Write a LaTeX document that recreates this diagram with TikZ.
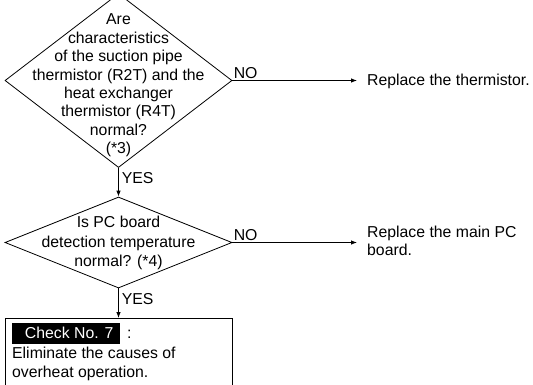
\documentclass[tikz,border=0pt]{standalone}
\usepackage{fontspec}
\setmainfont{Liberation Sans}
\usetikzlibrary{shapes.geometric,arrows.meta}
\begin{document}
\begin{tikzpicture}[x=1pt,y=-1pt,
  every node/.style={font=\fontsize{15.8}{18.6}\selectfont},
  dia/.style={draw,shape=diamond,line width=0.8pt,minimum width=227pt,minimum height=#1,inner sep=0pt},
  arr/.style={line width=0.8pt,-{Latex[length=6pt,width=4.5pt]}},
  lbl/.style={inner sep=0pt},
]
\clip (0,0) rectangle (533,384);
\node[dia=174pt] (d1) at (118.5,80.5) {};
\node[align=center,inner sep=0pt,font=\fontsize{15.8}{18.4}\selectfont] (t1) at (118.5,85.5) {Are\\characteristics\\of the suction pipe\\thermistor (R2T) and the\\heat exchanger\\thermistor (R4T)\\normal?\\(*3)};
\node[dia=91pt] (d2) at (118.5,242.5) {};
\node[align=center,inner sep=0pt,font=\fontsize{15.8}{19.2}\selectfont] (t2) at (118.5,243) {Is PC board\\detection temperature\\normal? (*4)};
\node[draw,line width=0.8pt,anchor=north,minimum width=227pt,minimum height=80pt,inner sep=0pt] (box) at (118.5,318) {};
\node[fill=black,text=white,anchor=north west,minimum width=108pt,minimum height=21pt,inner sep=0pt] (chk) at (12,322.5) {\hspace*{6pt}Check No. 7\hfill};
\node[lbl,anchor=west] (colon) at (127,334) {:};
\node[lbl,anchor=north west,align=left,font=\fontsize{15.8}{19}\selectfont] (elim) at (12,346.5) {Eliminate the causes of\\overheat operation.};
\node[lbl,anchor=west] (r1) at (367,81) {Replace the thermistor.};
\node[lbl,anchor=west,align=left] (r2) at (367,241) {Replace the main PC\\board.};
\draw[arr,shorten >=10pt] (d1.east) -- (d1.east -| r1.west) node[lbl,pos=0,anchor=south west,xshift=1pt,yshift=1pt] (no1) {NO};
\draw[arr,shorten >=10pt] (d2.east) -- (d2.east -| r2.west) node[lbl,pos=0,anchor=south west,xshift=1pt,yshift=1pt] (no2) {NO};
\draw[arr] (d1.south) -- (d2.north) node[lbl,pos=0.35,anchor=west,xshift=3pt] (yes1) {YES};
\draw[arr] (d2.south) -- (d2.south |- box.north) node[lbl,pos=0.35,anchor=west,xshift=3pt] (yes2) {YES};
\end{tikzpicture}
\end{document}
